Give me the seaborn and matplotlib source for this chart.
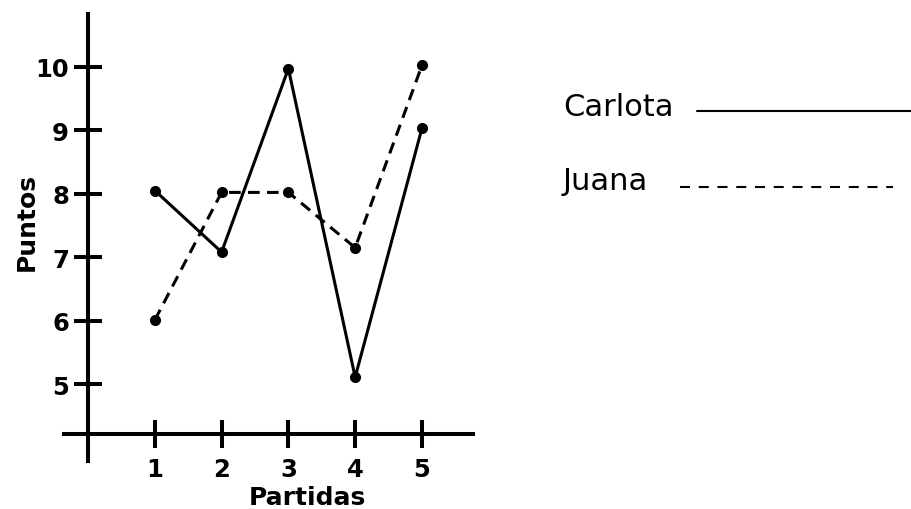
import matplotlib
matplotlib.use("Agg")
import matplotlib.pyplot as plt
import seaborn as sns
import pandas as pd
from matplotlib.lines import Line2D

# ---- data ----
partidas = [1, 2, 3, 4, 5]
carlota = [8.05, 7.08, 9.97, 5.11, 9.03]
juana = [6.01, 8.02, 8.02, 7.15, 10.02]
jugadoras = ["Carlota", "Juana"]
yticks = [5, 6, 7, 8, 9, 10]
xlabel = "Partidas"
ylabel = "Puntos"

df = pd.DataFrame({
    "Partida": partidas * 2,
    "Puntos": carlota + juana,
    "Jugadora": [jugadoras[0]] * len(partidas) + [jugadoras[1]] * len(partidas),
})

sns.set_style("white")
plt.rcParams["font.family"] = ["DejaVu Sans"]

W, H = 911, 510
fig = plt.figure(figsize=(W / 100, H / 100), dpi=100)

# axes placed in pixel terms
L, R, T, B = 64, 472.7, 15, 462
ax = fig.add_axes([L / W, 1 - B / H, (R - L) / W, (B - T) / H])
ax.set_facecolor("white")

sns.lineplot(
    data=df, x="Partida", y="Puntos", style="Jugadora",
    dashes={"Carlota": "", "Juana": (3.8, 2.4)},
    markers={"Carlota": "o", "Juana": "o"},
    color="black", linewidth=2.2, markersize=8, markeredgewidth=0,
    legend=False, ax=ax, sort=False,
)

ax.set_xlim(-0.36, 5.76)
ax.set_ylim(3.79, 10.83)
x_axis_y = 4.21

for s in ["top", "right"]:
    ax.spines[s].set_visible(False)
ax.spines["left"].set_position(("data", 0))
ax.spines["bottom"].set_position(("data", x_axis_y))
for s in ["left", "bottom"]:
    ax.spines[s].set_color("black")
    ax.spines[s].set_linewidth(2.9)

ax.set_xticks(partidas)
ax.set_xticklabels([str(p) for p in partidas])
ax.set_yticks(yticks)
ax.set_yticklabels([str(v) for v in yticks])
ax.tick_params(axis="both", which="major", direction="inout", length=19.5, width=2.9,
               color="black", labelsize=17.5, labelcolor="black",
               bottom=True, left=True, top=False, right=False)
ax.tick_params(axis="y", pad=4)
ax.tick_params(axis="x", pad=6.5)
for lab in ax.get_xticklabels() + ax.get_yticklabels():
    lab.set_fontweight("bold")

ax.set_xlabel(xlabel, fontsize=18, fontweight="bold", color="black")
ax.set_ylabel(ylabel, fontsize=18, fontweight="bold", color="black")
ax.xaxis.set_label_coords((307.5 - L) / (R - L), (B - 486) / (B - T))
ax.yaxis.set_label_coords((39 - L) / (R - L), (B - 222) / (B - T))

# ---- custom legend (text then line) ----
lax = fig.add_axes([0, 0, 1, 1])
lax.set_xlim(0, W)
lax.set_ylim(H, 0)
lax.axis("off")
lax.patch.set_alpha(0)

lax.text(563, 115.7, jugadoras[0], fontsize=22, va="baseline", ha="left", color="black")
lax.add_line(Line2D([697, 911], [111.7, 111.7], color="black", lw=1.5))
lax.text(563, 190, jugadoras[1], fontsize=22, va="baseline", ha="left", color="black")
lax.add_line(Line2D([680, 893], [188.3, 188.3], color="black", lw=1.5,
                    linestyle=(0, (4.8, 4.2))))

fig.savefig("out.png", dpi=100, facecolor="white")
